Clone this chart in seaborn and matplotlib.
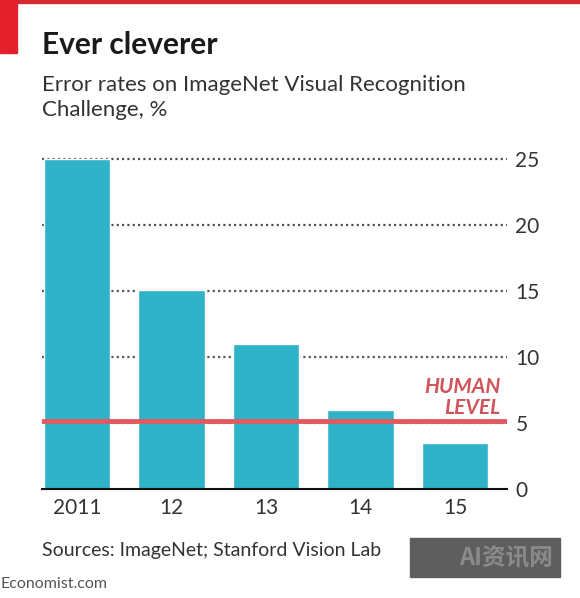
import matplotlib
matplotlib.use('Agg')
import matplotlib.pyplot as plt
import seaborn as sns
import pandas as pd
from matplotlib.patches import Rectangle

# data
years = ['2011', '12', '13', '14', '15']
error_rates = [25.0, 15.1, 11.0, 6.0, 3.5]
human_level = 5.2
y_ticks = [0, 5, 10, 15, 20, 25]

df = pd.DataFrame({'year': years, 'error': error_rates})

sns.set_style('white')
plt.rcParams['font.family'] = ['Lato', 'DejaVu Sans']

W, H = 580, 598
fig = plt.figure(figsize=(5.8, 5.98), dpi=100)
ax = fig.add_axes([42 / W, 108.7 / H, 465 / W, 336.6 / H])

bar_color = '#2fb3c9'
red = '#d0545c'
text_col = '#333333'

# dotted gridlines behind bars
for t in y_ticks[1:]:
    ax.axhline(t, color='#555555', linestyle=(0, (1, 1.4)), linewidth=1.6, zorder=0)

sns.barplot(data=df, x='year', y='error', color=bar_color, width=0.7,
            saturation=1, ax=ax, zorder=2)

ax.axhline(human_level, color='#e05a5f', linewidth=3.5, zorder=3)
ax.text(4.485, 7.3, 'HUMAN', color=red, fontsize=15, fontweight='bold',
        fontstyle='italic', ha='right', va='baseline', zorder=4)
ax.text(4.485, 5.7, 'LEVEL', color=red, fontsize=15, fontweight='bold',
        fontstyle='italic', ha='right', va='baseline', zorder=4)

ax.set_xlim(-0.37, 4.55)
ax.set_ylim(0, 25.5)
ax.set_yticks(y_ticks)
ax.yaxis.tick_right()
ax.tick_params(axis='y', length=0, pad=6, labelsize=15, labelcolor=text_col)
ax.tick_params(axis='x', length=0, pad=6, labelsize=15, labelcolor=text_col)
ax.set_xlabel('')
ax.set_ylabel('')
for s in ['top', 'left', 'right']:
    ax.spines[s].set_visible(False)
ax.spines['bottom'].set_color('#111111')
ax.spines['bottom'].set_linewidth(1.5)
ax.spines['bottom'].set_zorder(5)

# header decorations
fig.patches.append(Rectangle((0, 1 - 3 / H), 1, 3 / H, transform=fig.transFigure,
                             color='#d42a32', zorder=10))
fig.patches.append(Rectangle((0, 1 - 53 / H), 17 / W, 53 / H, transform=fig.transFigure,
                             color='#e3202b', zorder=10))

fig.text(42 / W, 1 - 54 / H, 'Ever cleverer', fontsize=21.5, fontweight='bold',
         color='#1a1a1a', va='baseline')
fig.text(42 / W, 1 - 91 / H, 'Error rates on ImageNet Visual Recognition',
         fontsize=16, color=text_col, va='baseline')
fig.text(42 / W, 1 - 116 / H, 'Challenge, %', fontsize=16, color=text_col, va='baseline')

fig.text(42 / W, 1 - 556 / H, 'Sources: ImageNet; Stanford Vision Lab',
         fontsize=14, color=text_col, va='baseline')
fig.text(0, 1 - 588 / H, 'Economist.com', fontsize=11.5, color='#555555', va='baseline')

# watermark box
fig.patches.append(Rectangle((410 / W, 1 - 577 / H), 150 / W, 39 / H,
                             transform=fig.transFigure, color='#5e5e5e', zorder=10))
fig.text(506 / W, 1 - 558 / H, 'AI资讯网', fontsize=17, fontweight='bold',
         color='#8a8a8a', ha='center', va='center', zorder=11,
         family=['Noto Sans CJK SC', 'DejaVu Sans'])

fig.savefig('out.png', dpi=100, facecolor='white')
